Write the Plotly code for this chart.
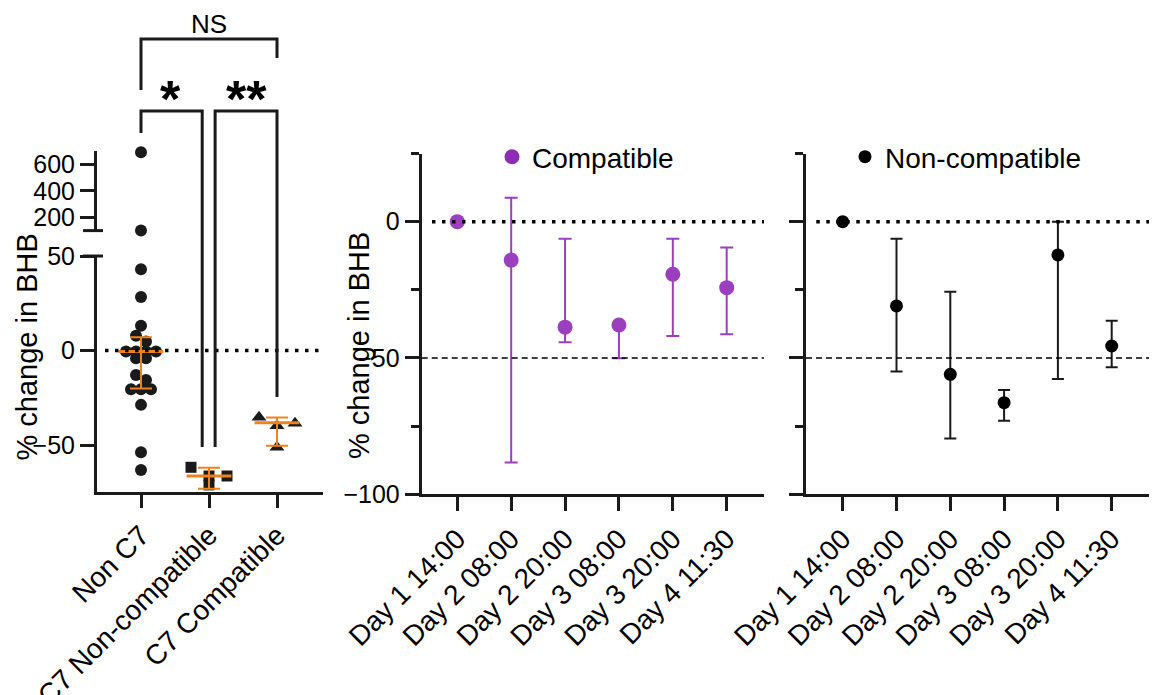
import plotly.graph_objects as go

# ---------------- data ----------------
groups = ["Non C7", "C7 Non-compatible", "C7 Compatible"]
non_c7 = [690, 100, 43, 28.3, 13.1, 7.8, 4.8, -0.5, -0.5, -0.5, -0.5, -4, -4,
          -12.9, -15.5, -20.4, -20.4, -20.4, -28.7, -53.8, -63.1]
c7_noncompat = [-61.7, -66.3, -66.3, -71.0]
c7_compat = [-35.2, -38.4, -39.8, -51.1]
group_median = [-0.5, -66.3, -38.1]
group_upper = [7.1, -61.9, -35.4]
group_lower = [-20.1, -73.0, -50.3]

times = ["Day 1 14:00", "Day 2 08:00", "Day 2 20:00", "Day 3 08:00", "Day 3 20:00", "Day 4 11:30"]
compat_mean = [0, -14.1, -38.7, -37.9, -19.3, -24.2]
compat_upper = [0, 8.8, -6.3, -37.9, -6.3, -9.5]
compat_lower = [0, -88.3, -44.2, -50.1, -41.9, -41.3]
noncompat_mean = [0, -30.9, -56.0, -66.4, -12.2, -45.6]
noncompat_upper = [0, -6.3, -25.7, -61.7, 0, -36.3]
noncompat_lower = [0, -55.0, -79.5, -73.0, -57.7, -53.4]

# ---------------- geometry helpers ----------------
OX, OY = 8, 8            # page margin of the html body
W, H = 1157 - OX, 695 - OY
def px(x):
    return (x - OX) / W
def py(y):
    return 1 - (y - OY) / H

FONT = "Arial, Liberation Sans, Helvetica, sans-serif"
INK = "#1a1a1a"
PURPLE = "#9B3FBE"
PURPLE_LEG = "#8C2DB4"
ORANGE = "#F0821E"

LOW_PX_PER_UNIT = 1.89   # lower left axis
CAT_PX = 68.0            # left panel px per category


def swarm(values, px_per_unit, px_per_cat, gap_px, row_px):
    order = sorted(range(len(values)), key=lambda i: -values[i])
    rows = []
    for i in order:
        if rows and (values[rows[-1][0]] - values[i]) * px_per_unit <= row_px:
            rows[-1].append(i)
        else:
            rows.append([i])
    offs = [0.0] * len(values)
    for row in rows:
        n = len(row)
        slots = [(k - (n - 1) / 2) * gap_px for k in range(n)]
        seq = []
        lo, hi = 0, n - 1
        while lo <= hi:
            seq.append(slots[lo])
            if lo != hi:
                seq.append(slots[hi])
            lo += 1
            hi -= 1
        for i, s in zip(row, seq):
            offs[i] = s / px_per_cat
    return offs


fig = go.Figure()

# ---------- left panel: scatter ----------
off0 = swarm(non_c7, LOW_PX_PER_UNIT, CAT_PX, 10, 6)
off1 = swarm(c7_noncompat, LOW_PX_PER_UNIT, CAT_PX, 18, 9)
off2 = swarm(c7_compat, LOW_PX_PER_UNIT, CAT_PX, 18, 9)

lowx = [0 + o for v, o in zip(non_c7, off0) if v <= 50]
lowy = [v for v in non_c7 if v <= 50]
upx = [0 + o for v, o in zip(non_c7, off0) if v > 50]
upy = [v for v in non_c7 if v > 50]

dot = dict(color=INK, size=12)
fig.add_trace(go.Scatter(x=lowx, y=lowy, mode="markers", marker=dict(symbol="circle", **dot),
                         xaxis="x", yaxis="y", showlegend=False, cliponaxis=False))
fig.add_trace(go.Scatter(x=upx, y=upy, mode="markers", marker=dict(symbol="circle", **dot),
                         xaxis="x", yaxis="y2", showlegend=False, cliponaxis=False))
fig.add_trace(go.Scatter(x=[1 + o for o in off1], y=c7_noncompat, mode="markers",
                         marker=dict(symbol="square", color=INK, size=11),
                         xaxis="x", yaxis="y", showlegend=False, cliponaxis=False))
fig.add_trace(go.Scatter(x=[2 + o for o in off2], y=c7_compat, mode="markers",
                         marker=dict(symbol="triangle-up", color=INK, size=13),
                         xaxis="x", yaxis="y", showlegend=False, cliponaxis=False))
# median + range (orange)
fig.add_trace(go.Scatter(
    x=[0, 1, 2], y=group_median, mode="markers",
    marker=dict(symbol="line-ew", size=32, color=ORANGE, line=dict(color=ORANGE, width=3)),
    error_y=dict(type="data", symmetric=False,
                 array=[u - m for u, m in zip(group_upper, group_median)],
                 arrayminus=[m - l for m, l in zip(group_median, group_lower)],
                 color=ORANGE, thickness=2, width=11),
    xaxis="x", yaxis="y", showlegend=False, cliponaxis=False))

# ---------- middle panel ----------
fig.add_trace(go.Scatter(
    x=times, y=compat_mean, mode="markers",
    marker=dict(color=PURPLE, size=15),
    error_y=dict(type="data", symmetric=False,
                 array=[u - m for u, m in zip(compat_upper, compat_mean)],
                 arrayminus=[m - l for m, l in zip(compat_mean, compat_lower)],
                 color=PURPLE, thickness=2, width=6.5),
    xaxis="x2", yaxis="y3", showlegend=False, cliponaxis=False))
fig.add_trace(go.Scatter(x=[None], y=[None], mode="markers", name="Compatible",
                         marker=dict(color=PURPLE_LEG, size=15),
                         xaxis="x2", yaxis="y3", showlegend=True, legend="legend"))

# ---------- right panel ----------
fig.add_trace(go.Scatter(
    x=times, y=noncompat_mean, mode="markers",
    marker=dict(color="black", size=13),
    error_y=dict(type="data", symmetric=False,
                 array=[u - m for u, m in zip(noncompat_upper, noncompat_mean)],
                 arrayminus=[m - l for m, l in zip(noncompat_mean, noncompat_lower)],
                 color=INK, thickness=2, width=6),
    xaxis="x3", yaxis="y4", showlegend=False, cliponaxis=False))
fig.add_trace(go.Scatter(x=[None], y=[None], mode="markers", name="Non-compatible",
                         marker=dict(color="black", size=13),
                         xaxis="x3", yaxis="y4", showlegend=True, legend="legend2"))

yfont = dict(family=FONT, size=25, color="black")
xfont = dict(family=FONT, size=28, color="black")
axis_common = dict(showline=True, linecolor=INK, linewidth=3, ticks="outside",
                   tickcolor=INK, tickwidth=3, showgrid=False, zeroline=False,
                   automargin=False, fixedrange=True)

# left panel
fig.update_layout(
    xaxis=dict(domain=[px(97), px(323)], range=[(97 - 141) / CAT_PX, (323 - 141) / CAT_PX],
               anchor="y", tickvals=[0, 1, 2], ticktext=groups, tickangle=-45, ticklen=13,
               tickfont=xfont, **axis_common),
    yaxis=dict(domain=[py(491.7), py(256)], range=[-74.6, 50], anchor="x",
               tickvals=[-50, 0, 50], ticklen=14, tickfont=yfont, **axis_common),
    yaxis2=dict(domain=[py(230.6), py(151)], range=[100, 700], anchor="x",
                tickvals=[200, 400, 600], ticklen=14, tickfont=yfont, **axis_common),
)

minor = dict(ticks="outside", dtick=25, tick0=0, ticklen=8, tickwidth=3, tickcolor=INK)
mid_x0 = 457.3
mid_step = 53.88
fig.update_layout(
    xaxis2=dict(domain=[px(421.7), px(764)], range=[(421.7 - mid_x0) / mid_step, (764 - mid_x0) / mid_step],
                anchor="y3", type="category", tickangle=-45, ticklen=14, tickfont=xfont, **axis_common),
    yaxis3=dict(domain=[py(494.3), py(153.5)], range=[-100, 25], anchor="x2",
                tickvals=[-100, -50, 0], ticklen=14, minor=minor, tickfont=yfont, **axis_common),
    xaxis3=dict(domain=[px(806), px(1149)], range=[(806 - 842.7) / 53.8, (1149 - 842.7) / 53.8],
                anchor="y4", type="category", tickangle=-45, ticklen=14, tickfont=xfont, **axis_common),
    yaxis4=dict(domain=[py(494.3), py(153.5)], range=[-100, 25], anchor="x3",
                tickvals=[-100, -50, 0], ticklen=14, minor=minor, showticklabels=False,
                tickfont=yfont, **axis_common),
)

shapes = []
dotted = dict(color="black", width=3.5, dash="3.5px,6.5px")
dashed = dict(color="black", width=1.5, dash="6px,4px")
shapes.append(dict(type="line", xref="x domain", yref="y", x0=(105 - 97) / 226, x1=1, y0=0, y1=0, line=dotted))
shapes.append(dict(type="line", xref="x2 domain", yref="y3", x0=0.03, x1=1, y0=0, y1=0, line=dotted))
shapes.append(dict(type="line", xref="x3 domain", yref="y4", x0=0.03, x1=1, y0=0, y1=0, line=dotted))
shapes.append(dict(type="line", xref="x2 domain", yref="y3", x0=0, x1=1, y0=-50, y1=-50, line=dashed))
shapes.append(dict(type="line", xref="x3 domain", yref="y4", x0=0, x1=1, y0=-50, y1=-50, line=dashed))

# axis break marks
brk = dict(color=INK, width=3)
shapes.append(dict(type="line", xref="paper", yref="paper", x0=px(83), x1=px(103), y0=py(230.6), y1=py(230.6), line=brk))
shapes.append(dict(type="line", xref="paper", yref="paper", x0=px(83), x1=px(103), y0=py(256), y1=py(256), line=brk))

# significance brackets
br = dict(color=INK, width=3)
def bracket(xa, xb, ytop, ya, yb):
    return dict(type="path", xref="x", yref="paper", line=br,
                path=f"M {xa},{py(ya)} L {xa},{py(ytop)} L {xb},{py(ytop)} L {xb},{py(yb)}")
shapes.append(bracket(0, 2, 39, 90, 58))
shapes.append(bracket(0, 0.9, 111, 133, 447))
shapes.append(bracket(1.09, 2, 111, 447, 397))

annotations = [
    dict(text="NS", x=1, y=py(24), xref="x", yref="paper", showarrow=False,
         font=dict(family=FONT, size=26, color="black"), yanchor="middle"),
    dict(text="<b>*</b>", x=0.44, y=py(99), xref="x", yref="paper", showarrow=False,
         font=dict(family=FONT, size=52, color="black"), yanchor="middle"),
    dict(text="<b>**</b>", x=1.545, y=py(99), xref="x", yref="paper", showarrow=False,
         font=dict(family=FONT, size=52, color="black"), yanchor="middle"),
    dict(text="% change in BHB", x=px(26), y=py(347.5), xref="paper", yref="paper",
         xanchor="center", yanchor="middle",
         showarrow=False, textangle=-90, font=dict(family=FONT, size=29, color="black")),
    dict(text="% change in BHB", x=px(359), y=py(346), xref="paper", yref="paper",
         xanchor="center", yanchor="middle",
         showarrow=False, textangle=-90, font=dict(family=FONT, size=29, color="black")),
]

legfont = dict(family=FONT, size=28, color="black")
fig.update_layout(
    width=W, height=H,
    margin=dict(l=0, r=0, t=0, b=0),
    paper_bgcolor="white", plot_bgcolor="white",
    font=dict(family=FONT, color="black"),
    shapes=shapes, annotations=annotations,
    legend=dict(x=px(492), y=py(157), xanchor="left", yanchor="middle",
                bgcolor="rgba(0,0,0,0)", font=legfont, itemsizing="trace"),
    legend2=dict(x=px(845), y=py(157), xanchor="left", yanchor="middle",
                 bgcolor="rgba(0,0,0,0)", font=legfont, itemsizing="trace"),
)

fig.write_html("out.html")
